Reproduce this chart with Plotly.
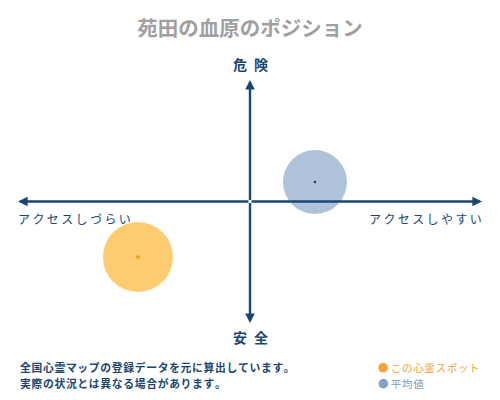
import plotly.graph_objects as go

# data
series_names = ["この心霊スポット", "平均値"]
access_scores = [-48.3, 28.0]     # x: アクセスしづらい (-) ... アクセスしやすい (+)
danger_scores = [-45.7, 16.0]     # y: 安全 (-) ... 危険 (+)
circle_colors = ["rgba(253,200,100,0.92)", "rgba(160,184,212,0.85)"]
dot_colors = ["#F0A020", "#1B3A5C"]
circle_sizes = [70, 64]

title_text = "苑田の血原のポジション"
top_label = "危\u2002険"
bottom_label = "安\u2002全"
left_label = "アクセスしづらい"
right_label = "アクセスしやすい"
note_lines = ["全国心霊マップの登録データを元に算出しています。", "実際の状況とは異なる場合があります。"]

NAVY = "#1B4572"
FONT = "Noto Sans CJK JP"
OFF = 8  # page body margin offset
W, H = 500 - OFF, 400 - OFF
ML, MR, MT, MB = 18 - OFF, 18, 80 - OFF, 77


def spaced(s, sep="\u200a"):
    return sep.join(list(s))


fig = go.Figure()

for i in range(len(series_names)):
    fig.add_trace(go.Scatter(
        x=[access_scores[i]], y=[danger_scores[i]], mode="markers",
        marker=dict(size=circle_sizes[i], color=circle_colors[i], line=dict(width=0)),
        showlegend=False, hoverinfo="skip"))
    fig.add_trace(go.Scatter(
        x=[access_scores[i]], y=[danger_scores[i]], mode="markers",
        marker=dict(size=4 if i == 0 else 2.5, color=dot_colors[i],
                    symbol="diamond" if i == 0 else "circle"),
        showlegend=False, hoverinfo="skip"))

# axes with arrowheads on both ends
arrow = dict(xref="x", yref="y", axref="x", ayref="y", showarrow=True,
             arrowhead=2, arrowsize=0.8, arrowwidth=2.4, arrowcolor=NAVY, text="")
fig.add_annotation(x=100, y=0, ax=0, ay=0, **arrow)
fig.add_annotation(x=-100, y=0, ax=0, ay=0, **arrow)
fig.add_annotation(x=0, y=100, ax=0, ay=0, **arrow)
fig.add_annotation(x=0, y=-100, ax=0, ay=0, **arrow)

# axis labels
fig.add_annotation(x=0, y=100, xref="x", yref="y", text="<b>" + top_label + "</b>", showarrow=False,
                   yanchor="bottom", yshift=4, font=dict(family=FONT, size=14, color=NAVY))
fig.add_annotation(x=0, y=-100, xref="x", yref="y", text="<b>" + bottom_label + "</b>", showarrow=False,
                   yanchor="top", yshift=-2, font=dict(family=FONT, size=14, color=NAVY))
fig.add_annotation(x=-100, y=0, xref="x", yref="y", text=spaced(left_label, "\u2009"), showarrow=False,
                   xanchor="left", yanchor="top", yshift=-6, xshift=-2,
                   font=dict(family=FONT, size=12, color=NAVY))
fig.add_annotation(x=100, y=0, xref="x", yref="y", text=spaced(right_label, "\u2009"), showarrow=False,
                   xanchor="right", yanchor="top", yshift=-6, xshift=2,
                   font=dict(family=FONT, size=12, color=NAVY))

plot_w = W - ML - MR
plot_h = H - MT - MB


def px_to_paper(px, py):
    # px, py are page pixel coordinates
    fx, fy = px - OFF, py - OFF
    return (fx - ML) / plot_w, 1 - (fy - MT) / plot_h


# footnote
for j, line in enumerate(note_lines):
    x, y = px_to_paper(18, 367 + 16 * j)
    fig.add_annotation(x=x, y=y, xref="paper", yref="paper", text="<b>" + spaced(line) + "</b>",
                       showarrow=False, xanchor="left", yanchor="middle",
                       font=dict(family=FONT, size=10.8, color=NAVY))

# legend (manual)
legend_text_colors = ["#F0A040", "#7A9CC0"]
legend_dot_colors = ["#F4A23C", "#7FA3C8"]
for j, name in enumerate(series_names):
    x, y = px_to_paper(376, 367 + 16 * j)
    fig.add_annotation(x=x, y=y, xref="paper", yref="paper",
                       text="<span style='color:%s'>●</span> %s" % (legend_dot_colors[j], spaced(name)),
                       showarrow=False, xanchor="left", yanchor="middle",
                       font=dict(family=FONT, size=10.5, color=legend_text_colors[j]))

fig.update_layout(
    width=W, height=H,
    margin=dict(l=ML, r=MR, t=MT, b=MB),
    paper_bgcolor="white", plot_bgcolor="white",
    title=dict(text="<b>" + title_text + "</b>", x=(250 - OFF) / W, xanchor="center",
               y=1 - (29 - OFF) / H, yanchor="middle",
               font=dict(family=FONT, size=20.5, color="#A0A0A0")),
    xaxis=dict(range=[-100, 100], visible=False, fixedrange=True),
    yaxis=dict(range=[-100, 100], visible=False, fixedrange=True),
)

fig.write_html("out.html")
